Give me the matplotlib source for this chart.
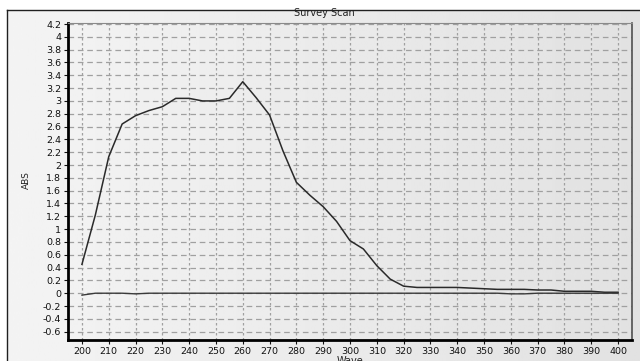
import numpy as np
import matplotlib.pyplot as plt
from matplotlib.lines import Line2D

# wavelength grid [nm]
wave = np.arange(200, 401, 5)

# sample scan (ABS)
abs_sample = [0.45, 1.22, 2.13, 2.64, 2.77, 2.85, 2.91, 3.04, 3.04, 3.00,
              3.00, 3.04, 3.30, 3.05, 2.78, 2.22, 1.73, 1.53, 1.35, 1.12,
              0.82, 0.69, 0.43, 0.22, 0.11, 0.09, 0.09, 0.09, 0.09, 0.08,
              0.07, 0.06, 0.06, 0.06, 0.05, 0.05, 0.03, 0.03, 0.03, 0.015,
              0.015]

# baseline scan (ABS)
abs_base = [-0.03, 0.00, 0.00, 0.00, -0.01, 0.00, 0.00, 0.00, 0.00, 0.00,
            0.00, 0.00, 0.00, 0.00, 0.00, 0.00, 0.00, 0.00, 0.00, 0.00,
            0.00, 0.00, 0.00, 0.00, 0.00, 0.00, 0.00, 0.00, 0.00, 0.00,
            0.00, 0.00, -0.01, -0.01, 0.00, 0.00, 0.00, 0.00, 0.00, 0.00,
            0.00]

xticks = np.arange(200, 401, 10)
yticks = np.round(np.arange(-0.6, 4.21, 0.2), 1)

W, H = 640, 361
fig = plt.figure(figsize=(W / 100, H / 100), dpi=100)
fig.patch.set_facecolor("white")

# light gray panel with a soft left-to-right gradient
bg = fig.add_axes([7 / W, 0, 1 - 7 / W, 1 - 10 / H], zorder=0)
grad = np.linspace(0.955, 0.885, 256).reshape(1, -1)
bg.imshow(grad, cmap="gray", vmin=0, vmax=1, aspect="auto",
          extent=[0, 1, 0, 1])
bg.set_axis_off()

ax = fig.add_axes([68 / W, 1 - 340 / H, (632 - 68) / W, (340 - 23) / H],
                  zorder=1)
ax.patch.set_alpha(0)

ax.plot(wave, abs_sample, color="#2a2a2a", lw=1.1)
ax.plot(wave, abs_base, color="#3a3a3a", lw=1.0)

ax.set_xlim(194.8, 405.2)
ax.set_ylim(-0.73, 4.216)
ax.set_xticks(xticks)
ax.set_yticks(yticks)
ax.set_yticklabels([f"{v:g}" for v in yticks])

# vertical grid is finely dotted, horizontal grid has longer dashes
ax.xaxis.grid(True, color="#a0a0a0", lw=0.9, linestyle=(0, (2, 2)))
ax.yaxis.grid(True, color="#a0a0a0", lw=0.9, linestyle=(0, (4.5, 3)))
ax.tick_params(labelsize=6.8, length=3, width=0.8, pad=2, colors="#111111")

for s in ("left", "bottom"):
    ax.spines[s].set_linewidth(2.0)
    ax.spines[s].set_color("black")
ax.spines["right"].set_linewidth(1.2)
ax.spines["right"].set_color("#505050")
ax.spines["top"].set_linewidth(0.8)
ax.spines["top"].set_color("#8a8a8a")

fig.text(324 / W, 1 - 13.5 / H, "Survey Scan", ha="center", va="center",
         fontsize=7, color="#222222", zorder=2)
fig.text(350 / W, 1 - 355.5 / H, "Wave", ha="center", va="top",
         fontsize=7, color="#222222")
fig.text(26 / W, 1 - 180 / H, "ABS", ha="center", va="center",
         fontsize=6.5, rotation=90, color="#222222")

# panel border (top + left), drawn over the title
fig.add_artist(Line2D([7 / W, 1], [1 - 10 / H, 1 - 10 / H], color="#202020",
                      lw=1.0, zorder=5, transform=fig.transFigure))
fig.add_artist(Line2D([7 / W, 7 / W], [0, 1 - 10 / H], color="#202020",
                      lw=1.0, zorder=5, transform=fig.transFigure))

fig.savefig("out.png", dpi=100)
